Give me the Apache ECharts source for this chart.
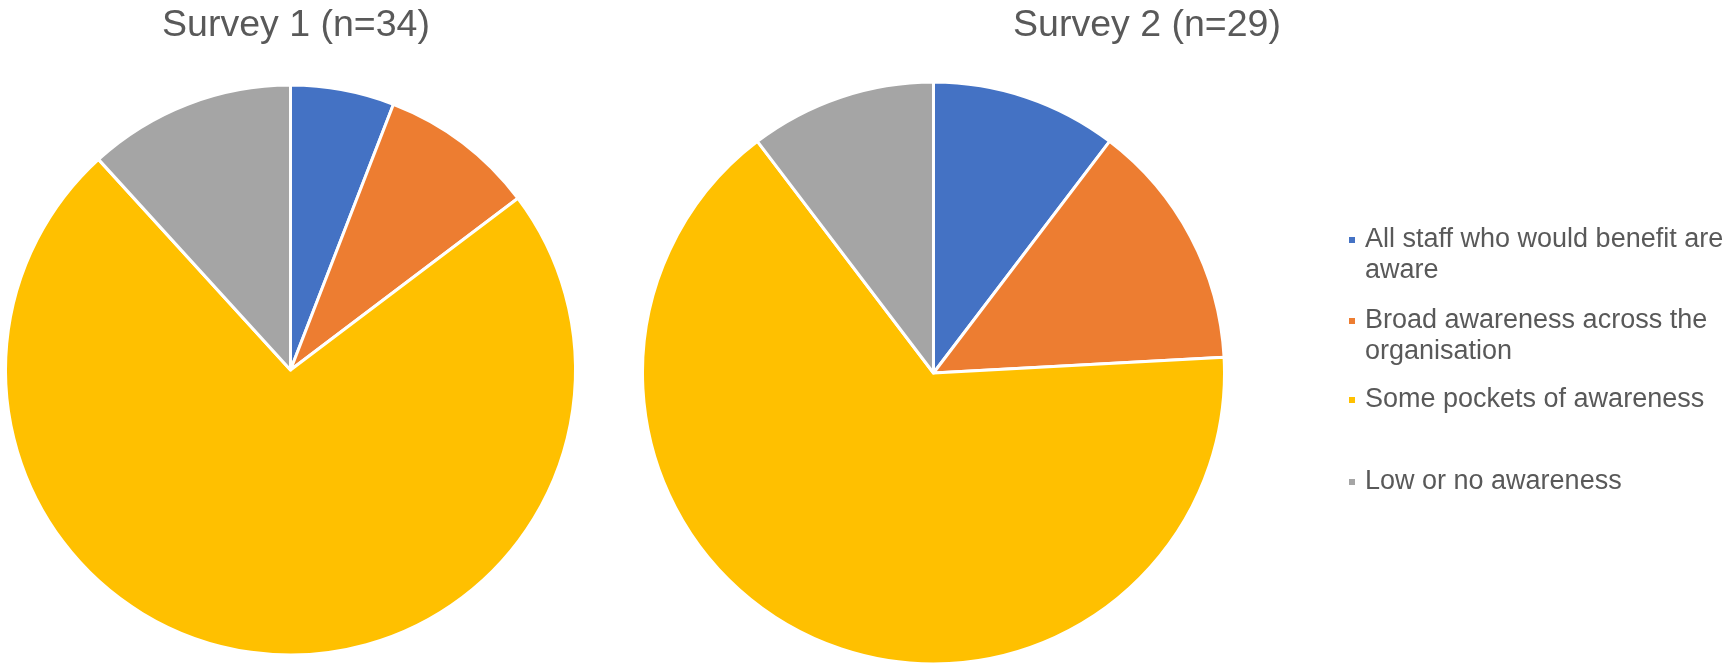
<!DOCTYPE html>
<html>
<head>
<meta charset="utf-8">
<style>
  html, body { margin: 0; padding: 0; background: #ffffff; }
  #chart { width: 1724px; height: 664px; }
</style>
<script src="https://cdn.jsdelivr.net/npm/echarts@6/dist/echarts.min.js"></script>
</head>
<body>
<div id="chart"></div>
<script>
// Awareness categories (legend order, clockwise from 12 o'clock)
const categories = [
  'All staff who would benefit are aware',
  'Broad awareness across the organisation',
  'Some pockets of awareness',
  'Low or no awareness'
];
// Legend labels as wrapped in the side legend
const legendLabels = [
  ['All staff who would benefit are', 'aware'],
  ['Broad awareness across the', 'organisation'],
  ['Some pockets of awareness'],
  ['Low or no awareness']
];
const colors = ['#4472C4', '#ED7D31', '#FFC000', '#A5A5A5'];

// Response counts per survey
const survey1Title = 'Survey 1 (n=34)';
const survey1Values = [2, 3, 25, 4];
const survey2Title = 'Survey 2 (n=29)';
const survey2Values = [3, 4, 19, 3];

const textColor = '#595959';
const fontFamily = '"Liberation Sans", Arial, sans-serif';
const legendLineHeight = 31;

function pieData(values) {
  return categories.map((name, i) => ({
    name: name,
    value: values[i],
    itemStyle: { color: colors[i] }
  }));
}

// One legend block per entry. Wrapped entries get an empty leading line so the
// marker (centred on the block) lines up with the first text line.
const markerCentres = [240, 321, 400, 482];
const legends = categories.map((name, i) => {
  const lines = legendLabels[i];
  const rows = lines.length > 1 ? ['{sp|}'].concat(lines.map(l => '{sp|}' + l)) : lines.map(l => '{sp|}' + l);
  const blockHeight = rows.length * legendLineHeight;
  return {
    data: [name],
    orient: 'vertical',
    left: 1347,
    top: markerCentres[i] - blockHeight / 2,
    padding: 0,
    icon: 'rect',
    itemWidth: 8,
    itemHeight: 8,
    selectedMode: false,
    formatter: () => rows.join('\n'),
    textStyle: {
      color: textColor,
      fontFamily: fontFamily,
      fontSize: 27,
      lineHeight: legendLineHeight,
      rich: {
        sp: { width: 4, lineHeight: legendLineHeight, fontSize: 27 }
      }
    }
  };
});

const chart = echarts.init(document.getElementById('chart'), null, { renderer: 'canvas' });

const titleStyle = {
  color: textColor,
  fontFamily: fontFamily,
  fontSize: 37.5,
  fontWeight: 'normal'
};

chart.setOption({
  backgroundColor: '#ffffff',
  animation: false,
  title: [
    { text: survey1Title, left: 296, top: 7, textAlign: 'center', textStyle: titleStyle, padding: 0 },
    { text: survey2Title, left: 1147, top: 7, textAlign: 'center', textStyle: titleStyle, padding: 0 }
  ],
  legend: legends,
  series: [
    {
      name: survey1Title,
      type: 'pie',
      center: [290.5, 370],
      radius: 285,
      startAngle: 90,
      clockwise: true,
      label: { show: false },
      labelLine: { show: false },
      emphasis: { disabled: true },
      itemStyle: { borderColor: '#ffffff', borderWidth: 3 },
      data: pieData(survey1Values)
    },
    {
      name: survey2Title,
      type: 'pie',
      center: [933.5, 373],
      radius: 291,
      startAngle: 90,
      clockwise: true,
      label: { show: false },
      labelLine: { show: false },
      emphasis: { disabled: true },
      itemStyle: { borderColor: '#ffffff', borderWidth: 3 },
      data: pieData(survey2Values)
    }
  ]
});
</script>
</body>
</html>
